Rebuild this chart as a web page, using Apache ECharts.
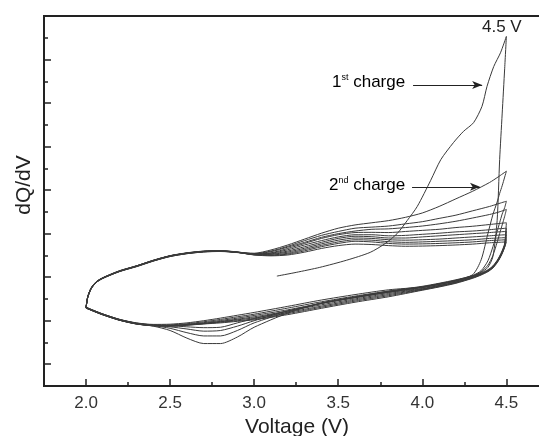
<!DOCTYPE html>
<html>
<head>
<meta charset="utf-8">
<script src="https://cdn.jsdelivr.net/npm/echarts@6/dist/echarts.min.js"></script>
<style>
html, body { margin: 0; padding: 0; background: #fff; }
#main { width: 539px; height: 436px; }
</style>
</head>
<body>
<div id="main"></div>
<script>
// tick positions
var xMajor = [2.0, 2.5, 3.0, 3.5, 4.0, 4.5];
var xMinor = [2.25, 2.75, 3.25, 3.75, 4.25];
var yMajor = [0, 2, 4, 6, 8, 10, 12, 14];
var yMinor = [1, 3, 5, 7, 9, 11, 13, 15];

// voltage grids (V)
var chargeV = [2.0, 2.01, 2.03, 2.06, 2.1, 2.2, 2.3, 2.4, 2.5, 2.6, 2.7, 2.8, 2.9, 3.0, 3.1,
    3.2, 3.3, 3.4, 3.5, 3.6, 3.7, 3.8, 3.9, 4.0, 4.1, 4.2, 4.3, 4.4, 4.45, 4.5];
var dischargeV = [4.5, 4.49, 4.475, 4.46, 4.445, 4.42, 4.39, 4.35, 4.3, 4.2, 4.1, 4.0, 3.8, 3.6,
    3.4, 3.2, 3.0, 2.9, 2.8, 2.7, 2.6, 2.5, 2.4, 2.3, 2.2, 2.1, 2.05, 2.0];

// 1st charge starts at open circuit voltage
var firstChargeV = [3.135, 3.25, 3.39, 3.55, 3.69, 3.78, 3.85, 3.91, 3.97, 4.05, 4.11, 4.185,
    4.245, 4.305, 4.355, 4.385, 4.425, 4.465, 4.5];
var firstChargeY = [4.05, 4.22, 4.45, 4.78, 5.14, 5.55, 6.0, 6.6, 7.25, 8.45, 9.4, 10.18,
    10.7, 11.1, 11.85, 12.77, 13.68, 14.31, 15.06];

// dQ/dV (arb. units), on chargeV
var charge2 = [2.58, 3.1, 3.5, 3.78, 3.97, 4.28, 4.52, 4.77, 4.98, 5.1, 5.18, 5.2, 5.15, 5.1, 5.25,
    5.48, 5.75, 6.02, 6.25, 6.4, 6.5, 6.6, 6.75, 6.95, 7.25, 7.6, 7.95, 8.35, 8.6, 8.87];
var charge3 = [2.6, 3.08, 3.48, 3.76, 3.95, 4.26, 4.5, 4.75, 4.96, 5.09, 5.17, 5.19, 5.14, 5.08, 5.2,
    5.42, 5.68, 5.92, 6.1, 6.25, 6.3, 6.35, 6.45, 6.55, 6.7, 6.85, 7.05, 7.25, 7.37, 7.49];
var charge4 = [2.61, 3.06, 3.46, 3.75, 3.95, 4.27, 4.49, 4.74, 4.95, 5.08, 5.16, 5.18, 5.13, 5.07, 5.17,
    5.38, 5.6, 5.83, 6.0, 6.12, 6.2, 6.22, 6.28, 6.35, 6.45, 6.57, 6.72, 6.88, 6.98, 7.11];
var charge5 = [2.62, 3.08, 3.48, 3.77, 3.96, 4.28, 4.5, 4.76, 4.97, 5.1, 5.18, 5.2, 5.15, 5.06, 5.12,
    5.32, 5.55, 5.78, 5.95, 6.05, 6.06, 6.05, 6.1, 6.15, 6.2, 6.28, 6.34, 6.42, 6.46, 6.5];
var charge6 = [2.62, 3.1, 3.5, 3.79, 3.98, 4.3, 4.52, 4.78, 4.99, 5.12, 5.2, 5.22, 5.16, 5.06, 5.1,
    5.26, 5.48, 5.68, 5.85, 5.95, 5.95, 5.9, 5.92, 5.97, 6.02, 6.08, 6.12, 6.18, 6.22, 6.25];
var charge7 = [2.6, 3.05, 3.45, 3.75, 3.94, 4.26, 4.48, 4.74, 4.95, 5.08, 5.16, 5.19, 5.14, 5.05, 5.07,
    5.2, 5.4, 5.6, 5.78, 5.88, 5.86, 5.8, 5.8, 5.85, 5.9, 5.95, 6.0, 6.05, 6.08, 6.1];
var charge8 = [2.59, 3.09, 3.49, 3.78, 3.97, 4.29, 4.51, 4.77, 4.98, 5.11, 5.19, 5.21, 5.15, 5.04, 5.05,
    5.15, 5.33, 5.53, 5.7, 5.8, 5.78, 5.72, 5.7, 5.72, 5.75, 5.8, 5.85, 5.9, 5.93, 5.95];
var charge9 = [2.58, 3.07, 3.47, 3.76, 3.96, 4.27, 4.5, 4.75, 4.97, 5.1, 5.18, 5.2, 5.14, 5.03, 5.02,
    5.1, 5.27, 5.46, 5.62, 5.72, 5.7, 5.63, 5.6, 5.62, 5.65, 5.68, 5.72, 5.78, 5.8, 5.82];
var charge10 = [2.59, 3.08, 3.48, 3.77, 3.96, 4.28, 4.51, 4.76, 4.98, 5.11, 5.19, 5.21, 5.15, 5.03, 5.0,
    5.06, 5.21, 5.4, 5.55, 5.65, 5.62, 5.55, 5.52, 5.53, 5.55, 5.58, 5.62, 5.68, 5.7, 5.72];
var charge11 = [2.58, 3.1, 3.5, 3.78, 3.97, 4.29, 4.52, 4.77, 4.98, 5.1, 5.18, 5.2, 5.14, 5.02, 4.98,
    5.02, 5.15, 5.32, 5.45, 5.52, 5.5, 5.45, 5.42, 5.43, 5.45, 5.48, 5.52, 5.58, 5.6, 5.62];

// on dischargeV
var discharge1 = [15.06, 13.6, 11.5, 9.4, 6.6, 4.95, 4.45, 4.22, 4.07, 3.88, 3.72, 3.58, 3.36, 3.1,
    2.82, 2.35, 1.7, 1.25, 0.95, 0.95, 1.2, 1.55, 1.75, 1.86, 2.03, 2.28, 2.43, 2.58];
var discharge2 = [8.87, 8.6, 8.2, 7.85, 7.45, 6.88, 6.0, 4.8, 4.12, 3.86, 3.7, 3.56, 3.34, 3.08,
    2.8, 2.4, 1.9, 1.55, 1.3, 1.3, 1.45, 1.65, 1.78, 1.87, 2.04, 2.29, 2.44, 2.6];
var discharge3 = [7.49, 7.2, 6.9, 6.5, 6.1, 5.4, 4.75, 4.3, 4.08, 3.84, 3.68, 3.54, 3.32, 3.07,
    2.8, 2.45, 2.0, 1.75, 1.55, 1.52, 1.62, 1.72, 1.8, 1.88, 2.05, 2.3, 2.45, 2.61];
var discharge4 = [7.11, 6.8, 6.4, 6.0, 5.6, 5.0, 4.55, 4.25, 4.05, 3.83, 3.67, 3.53, 3.31, 3.06,
    2.79, 2.45, 2.1, 1.9, 1.7, 1.68, 1.72, 1.77, 1.8, 1.89, 2.06, 2.31, 2.46, 2.62];
var discharge5 = [6.5, 5.55, 5.22, 4.97, 4.77, 4.52, 4.34, 4.19, 4.05, 3.85, 3.69, 3.55, 3.42, 3.2,
    2.95, 2.66, 2.38, 2.25, 2.12, 2.0, 1.9, 1.84, 1.83, 1.9, 2.06, 2.31, 2.46, 2.62];
var discharge6 = [6.25, 5.5, 5.18, 4.94, 4.75, 4.5, 4.32, 4.17, 4.03, 3.82, 3.66, 3.52, 3.36, 3.13,
    2.87, 2.58, 2.3, 2.18, 2.06, 1.95, 1.86, 1.81, 1.8, 1.88, 2.05, 2.3, 2.45, 2.6];
var discharge7 = [6.1, 5.48, 5.16, 4.92, 4.73, 4.48, 4.3, 4.15, 4.0, 3.78, 3.62, 3.48, 3.3, 3.06,
    2.8, 2.5, 2.24, 2.12, 2.01, 1.91, 1.83, 1.78, 1.78, 1.86, 2.03, 2.28, 2.43, 2.59];
var discharge8 = [5.95, 5.45, 5.14, 4.9, 4.71, 4.46, 4.29, 4.14, 3.99, 3.78, 3.61, 3.46, 3.25, 3.0,
    2.73, 2.44, 2.18, 2.07, 1.97, 1.88, 1.82, 1.77, 1.77, 1.85, 2.02, 2.27, 2.42, 2.58];
var discharge9 = [5.82, 5.42, 5.12, 4.88, 4.7, 4.45, 4.28, 4.13, 3.98, 3.76, 3.59, 3.44, 3.2, 2.95,
    2.67, 2.38, 2.13, 2.04, 1.95, 1.87, 1.81, 1.77, 1.78, 1.86, 2.03, 2.28, 2.43, 2.59];
var discharge10 = [5.72, 5.4, 5.1, 4.87, 4.68, 4.44, 4.27, 4.12, 3.97, 3.74, 3.57, 3.42, 3.15, 2.9,
    2.62, 2.33, 2.08, 2.0, 1.93, 1.86, 1.8, 1.76, 1.77, 1.85, 2.02, 2.27, 2.42, 2.58];
var discharge11 = [5.62, 5.38, 5.08, 4.85, 4.66, 4.42, 4.25, 4.1, 3.95, 3.72, 3.55, 3.4, 3.1, 2.85,
    2.57, 2.28, 2.04, 1.97, 1.9, 1.85, 1.79, 1.75, 1.77, 1.85, 2.02, 2.27, 2.42, 2.58];

function pairs(xs, ys) {
    return xs.map(function (x, i) { return [x, ys[i]]; });
}

var cycles = [
    pairs(firstChargeV, firstChargeY).concat(pairs(dischargeV, discharge1)),
    pairs(chargeV, charge2).concat(pairs(dischargeV, discharge2)),
    pairs(chargeV, charge3).concat(pairs(dischargeV, discharge3)),
    pairs(chargeV, charge4).concat(pairs(dischargeV, discharge4)),
    pairs(chargeV, charge5).concat(pairs(dischargeV, discharge5)),
    pairs(chargeV, charge6).concat(pairs(dischargeV, discharge6)),
    pairs(chargeV, charge7).concat(pairs(dischargeV, discharge7)),
    pairs(chargeV, charge8).concat(pairs(dischargeV, discharge8)),
    pairs(chargeV, charge9).concat(pairs(dischargeV, discharge9)),
    pairs(chargeV, charge10).concat(pairs(dischargeV, discharge10)),
    pairs(chargeV, charge11).concat(pairs(dischargeV, discharge11))
];

var font = 'Liberation Sans, Arial, sans-serif';
var ink = '#222';

var myChart = echarts.init(document.getElementById('main'));

var series = cycles.map(function (d, i) {
    var s = {
        name: 'cycle ' + (i + 1),
        type: 'line',
        data: d,
        showSymbol: false,
        smooth: 0.25,
        lineStyle: { color: '#3a3a3a', width: 1 },
        silent: true
    };
    if (i === 0) {
        s.markLine = {
            silent: true,
            symbol: ['none', 'arrow'],
            symbolSize: [6, 10],
            lineStyle: { color: ink, width: 1, type: 'solid' },
            label: { show: false },
            data: [
                [{ coord: [3.945, 12.83] }, { coord: [4.356, 12.83] }],
                [{ coord: [3.939, 8.15] }, { coord: [4.343, 8.15] }]
            ]
        };
    }
    return s;
});

option = {
    animation: false,
    backgroundColor: '#fff',
    grid: {
        left: 44,
        top: 16,
        width: 496,
        bottom: 50,
        outerBoundsMode: 'none',
        containLabel: false,
        show: true,
        borderColor: ink,
        borderWidth: 2
    },
    xAxis: [{
        type: 'value',
        position: 'bottom',
        min: 1.75,
        max: 4.7,
        name: 'Voltage (V)',
        nameLocation: 'middle',
        nameGap: 27,
        nameTextStyle: { fontFamily: font, fontSize: 21, color: ink, padding: [0, 0, 0, 10] },
        axisLine: { onZero: false, lineStyle: { color: ink, width: 2 } },
        axisTick: { inside: true, length: 7, customValues: xMajor, lineStyle: { color: ink, width: 1.5 } },
        axisLabel: {
            customValues: xMajor,
            margin: 9,
            fontFamily: font,
            fontSize: 17,
            color: '#333',
            formatter: function (v) { return v.toFixed(1); }
        },
        splitLine: { show: false }
    }, {
        type: 'value',
        position: 'bottom',
        min: 1.75,
        max: 4.7,
        axisLine: { show: false, onZero: false },
        axisTick: { inside: true, length: 4, customValues: xMinor, lineStyle: { color: ink, width: 1.5 } },
        axisLabel: { show: false },
        splitLine: { show: false }
    }],
    yAxis: [{
        type: 'value',
        position: 'left',
        min: -1,
        max: 16,
        axisLine: { show: true, onZero: false, lineStyle: { color: ink, width: 2 } },
        axisTick: { inside: true, length: 7, customValues: yMajor, lineStyle: { color: ink, width: 1.5 } },
        axisLabel: { show: false },
        splitLine: { show: false }
    }, {
        type: 'value',
        position: 'left',
        min: -1,
        max: 16,
        axisLine: { show: false, onZero: false },
        axisTick: { show: true, inside: true, length: 4, customValues: yMinor, lineStyle: { color: ink, width: 1.5 } },
        axisLabel: { show: false },
        splitLine: { show: false }
    }],
    graphic: [{
        type: 'text',
        x: 24,
        y: 185,
        rotation: Math.PI / 2,
        style: { text: 'dQ/dV', font: '21px ' + font, fill: ink, align: 'center', verticalAlign: 'middle' }
    }, {
        type: 'text',
        x: 482,
        y: 27,
        style: { text: '4.5 V', font: '17px ' + font, fill: ink, align: 'left', verticalAlign: 'middle' }
    }, {
        type: 'text',
        x: 332,
        y: 82,
        style: {
            text: '{n|1}{s|st}{n| charge}',
            align: 'left',
            verticalAlign: 'middle',
            rich: {
                n: { fontFamily: font, fontSize: 17, color: ink },
                s: { fontFamily: font, fontSize: 9, color: ink, padding: [0, 0, 9, 0] }
            }
        }
    }, {
        type: 'text',
        x: 329,
        y: 185,
        style: {
            text: '{n|2}{s|nd}{n| charge}',
            align: 'left',
            verticalAlign: 'middle',
            rich: {
                n: { fontFamily: font, fontSize: 17, color: ink },
                s: { fontFamily: font, fontSize: 9, color: ink, padding: [0, 0, 9, 0] }
            }
        }
    }],
    series: series
};

myChart.setOption(option);
</script>
</body>
</html>
